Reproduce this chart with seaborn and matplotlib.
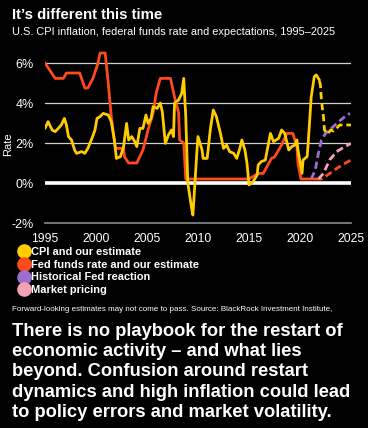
import matplotlib
matplotlib.use("Agg")
import matplotlib.pyplot as plt
import seaborn as sns
from matplotlib.lines import Line2D

# dati (anni frazionari, valori in %)
cpi_year = [1995.0, 1995.3, 1995.7, 1996.0, 1996.3, 1996.6, 1996.9, 1997.1, 1997.3, 1997.6,
            1997.9, 1998.1, 1998.6, 1998.9, 1999.2, 1999.6, 1999.9, 2000.1, 2000.4, 2000.7,
            2001.2, 2001.5, 2001.8, 2002.0, 2002.4, 2002.7, 2003.0, 2003.2, 2003.5, 2003.8,
            2004.0, 2004.3, 2004.6, 2004.9, 2005.1, 2005.4, 2005.6, 2006.0, 2006.3, 2006.5,
            2006.8, 2007.1, 2007.4, 2007.6, 2007.7, 2008.1, 2008.4, 2008.6, 2008.8, 2009.0,
            2009.4, 2009.5, 2009.7, 2009.9, 2010.0, 2010.4, 2010.5, 2010.9, 2011.2, 2011.5,
            2011.8, 2012.2, 2012.5, 2012.8, 2013.1, 2013.5, 2013.8, 2014.1, 2014.3, 2014.6,
            2014.8, 2015.0, 2015.4, 2015.8, 2015.9, 2016.2, 2016.6, 2017.1, 2017.4, 2017.9,
            2018.2, 2018.5, 2018.9, 2019.2, 2019.5, 2019.7, 2019.8, 2020.2, 2020.3, 2020.7,
            2020.8, 2021.1, 2021.4, 2021.6, 2021.9]
cpi = [2.73, 3.07, 2.65, 2.57, 2.73, 2.9, 3.23, 2.9, 2.32, 2.15,
       1.65, 1.48, 1.57, 1.48, 1.73, 2.23, 2.65, 3.23, 3.32, 3.48,
       3.4, 3.07, 2.15, 1.23, 1.32, 1.82, 2.98, 2.15, 2.32, 2.07,
       1.82, 2.73, 2.73, 3.4, 2.98, 3.23, 3.82, 3.73, 4.0, 3.57,
       1.98, 2.4, 2.65, 2.32, 4.0, 4.15, 4.48, 5.23, 3.32, 0.0,
       -1.35, -1.6, 0.0, 1.65, 2.32, 1.65, 1.23, 1.23, 2.65, 3.65,
       3.32, 2.48, 1.73, 1.9, 1.57, 1.48, 1.23, 1.73, 2.15, 1.65,
       1.0, -0.1, 0.07, 0.4, 0.9, 1.07, 1.15, 2.48, 2.07, 2.23,
       2.65, 2.48, 1.65, 1.82, 1.9, 2.15, 1.65, 0.48, 1.15, 1.32,
       1.98, 4.3, 5.32, 5.4, 5.15]

cpi_est_year = [2021.9, 2022.0, 2022.1, 2022.3, 2022.4, 2022.7, 2023.0, 2023.3, 2023.9, 2024.6, 2025.0]
cpi_est = [5.1, 4.9, 4.15, 3.3, 2.65, 2.45, 2.65, 2.6, 2.9, 2.9, 2.9]

fed_year = [1995.0, 1996.0, 1996.8, 1997.1, 1998.4, 1998.9, 1999.2, 1999.7, 2000.2, 2000.4,
            2000.9, 2001.2, 2001.5, 2001.9, 2002.7, 2002.8, 2003.2, 2004.0, 2004.6, 2005.1,
            2005.6, 2005.9, 2006.3, 2007.3, 2007.7, 2008.1, 2008.2, 2008.6, 2008.8, 2015.0,
            2015.9, 2016.4, 2017.2, 2017.5, 2018.2, 2018.7, 2019.3, 2019.7, 2019.8, 2020.1,
            2021.5]
fed = [6.0, 5.23, 5.23, 5.5, 5.5, 4.75, 4.75, 5.23, 6.0, 6.5,
       6.5, 5.0, 3.3, 1.73, 1.73, 1.3, 1.0, 1.0, 1.65, 2.65,
       3.5, 4.5, 5.23, 5.23, 4.3, 3.5, 2.15, 2.0, 0.2, 0.2,
       0.48, 0.48, 1.23, 1.3, 1.9, 2.48, 2.48, 1.82, 0.98, 0.2,
       0.2]

fed_est_year = [2021.5, 2022.1, 2022.7, 2023.6, 2024.4, 2025.0]
fed_est = [0.2, 0.2, 0.4, 0.73, 0.98, 1.15]

market_year = [2021.8, 2022.3, 2022.9, 2023.6, 2024.4, 2025.0]
market = [0.2, 0.48, 1.15, 1.57, 1.82, 1.98]

hist_year = [2021.1, 2021.5, 2021.8, 2022.1, 2022.5, 2022.9, 2023.8, 2024.6, 2024.9]
hist = [0.2, 0.65, 1.48, 2.15, 2.48, 2.65, 3.07, 3.4, 3.48]

xticks = [1995, 2000, 2005, 2010, 2015, 2020, 2025]
yticks = [-2, 0, 2, 4, 6]
ytick_labels = ["-2%", "0%", "2%", "4%", "6%"]

legend_labels = ["CPI and our estimate", "Fed funds rate and our estimate",
                 "Historical Fed reaction", "Market pricing"]

YELLOW = "#FFCC00"
RED = "#FF4A1C"
PURPLE = "#9A6FCF"
PINK = "#F7A1B4"

sns.set_style("dark")
plt.rcParams["font.family"] = ["Liberation Sans", "DejaVu Sans"]

fig = plt.figure(figsize=(3.68, 4.28), dpi=100, facecolor="black")
ax = fig.add_axes([45 / 368, 1 - 223 / 428, 306 / 368, 172 / 428])
ax.set_facecolor("black")

# griglia orizzontale
for v in [2, 4, 6]:
    ax.axhline(v, color="#d0d0d0", lw=0.9, zorder=1)
ax.axhline(0, color="white", lw=2.6, zorder=1)

lw = 2.0
dash = (2.6, 1.4)
sns.lineplot(x=fed_year, y=fed, ax=ax, color=RED, lw=lw, estimator=None, zorder=3)
sns.lineplot(x=fed_est_year, y=fed_est, ax=ax, color=RED, lw=lw, estimator=None,
             zorder=3).lines[-1].set_dashes(dash)
sns.lineplot(x=market_year, y=market, ax=ax, color=PINK, lw=lw, estimator=None,
             zorder=3).lines[-1].set_dashes(dash)
sns.lineplot(x=hist_year, y=hist, ax=ax, color=PURPLE, lw=lw, estimator=None,
             zorder=3).lines[-1].set_dashes(dash)
sns.lineplot(x=cpi_year, y=cpi, ax=ax, color=YELLOW, lw=lw, estimator=None, zorder=4)
sns.lineplot(x=cpi_est_year, y=cpi_est, ax=ax, color=YELLOW, lw=lw, estimator=None,
             zorder=4).lines[-1].set_dashes(dash)

ax.set_xlim(1995, 2025)
ax.set_ylim(-2, 6.6)
ax.set_xticks(xticks)
ax.set_xticklabels([str(t) for t in xticks], color="white", fontsize=8.7)
ax.set_yticks(yticks)
ax.set_yticklabels(ytick_labels, color="white", fontsize=9)
ax.tick_params(axis="x", length=0, pad=7)
ax.tick_params(axis="y", length=0, pad=8)
ax.grid(False)
for s in ["top", "right", "left"]:
    ax.spines[s].set_visible(False)
ax.spines["bottom"].set_color("#8a8a8a")
ax.spines["bottom"].set_linewidth(1.2)
ax.set_xlabel("")
ax.set_ylabel("Rate", color="white", fontsize=8)
ax.yaxis.set_label_coords((13 - 45) / 306, 0.46)

# titoli
fig.text(12 / 368, 1 - 8 / 428, "It\u2019s different this time", color="white",
         fontsize=10.8, fontweight="bold", va="top", ha="left")
fig.text(12 / 368, 1 - 27 / 428, "U.S. CPI inflation, federal funds rate and expectations, 1995\u20132025",
         color="white", fontsize=7.9, va="top", ha="left")

# legenda
handles = [Line2D([], [], marker="o", ls="", color=c, markersize=9.5)
           for c in [YELLOW, RED, PURPLE, PINK]]
leg = fig.legend(handles, legend_labels, loc="upper left",
                 bbox_to_anchor=(19 / 368, 1 - 247 / 428), frameon=False,
                 labelspacing=0.25, handletextpad=0.05, handlelength=1.0,
                 borderpad=0, borderaxespad=0,
                 prop={"weight": "bold", "size": 7.9})
for t in leg.get_texts():
    t.set_color("white")

fig.text(12 / 368, 1 - 306 / 428,
         "Forward-looking estimates may not come to pass. Source: BlackRock Investment Institute,",
         color="white", fontsize=5.8, va="top", ha="left")

fig.text(12 / 368, 1 - 323 / 428,
         "There is no playbook for the restart of\n"
         "economic activity \u2013 and what lies\n"
         "beyond. Confusion around restart\n"
         "dynamics and high inflation could lead\n"
         "to policy errors and market volatility.",
         color="white", fontsize=13.2, fontweight="bold", va="top", ha="left",
         linespacing=1.25)

fig.savefig("out.png", dpi=100, facecolor="black")
